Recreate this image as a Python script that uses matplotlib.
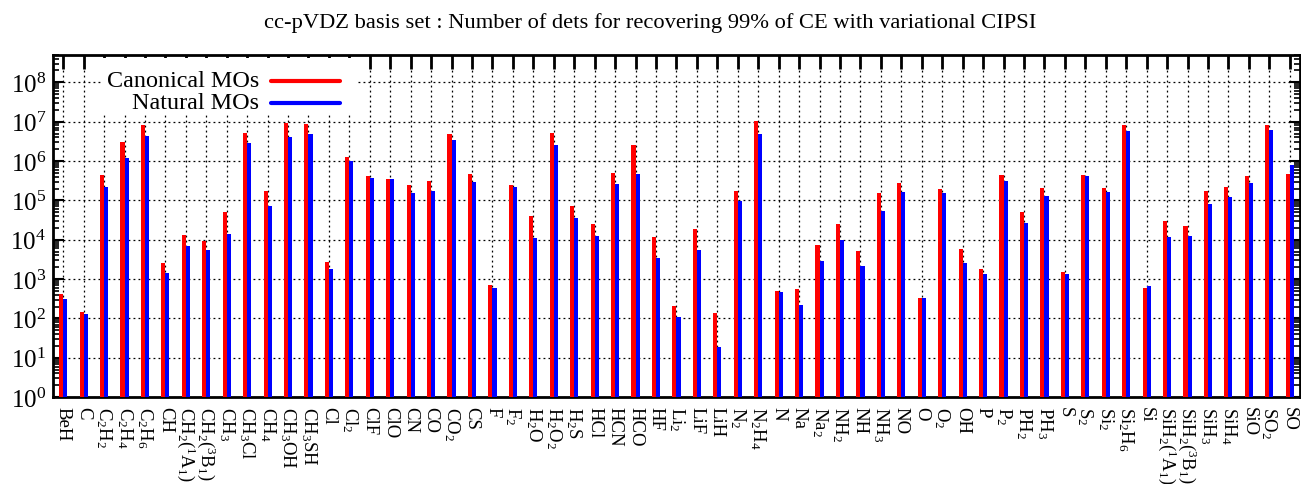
import matplotlib
matplotlib.use('Agg')
import numpy as np
import matplotlib.pyplot as plt
from matplotlib.ticker import LogLocator, LogFormatterMathtext, NullFormatter

plt.rcParams['font.family'] = 'Liberation Serif'
plt.rcParams['mathtext.fontset'] = 'custom'
plt.rcParams['mathtext.rm'] = 'Liberation Serif'
plt.rcParams['mathtext.it'] = 'Liberation Serif:italic'

# molecules (x axis)
molecules = ['BeH', 'C', 'C$_2$H$_2$', 'C$_2$H$_4$', 'C$_2$H$_6$', 'CH',
             'CH$_2$($^1$A$_1$)', 'CH$_2$($^3$B$_1$)', 'CH$_3$', 'CH$_3$Cl',
             'CH$_4$', 'CH$_3$OH', 'CH$_3$SH', 'Cl', 'Cl$_2$', 'ClF', 'ClO',
             'CN', 'CO', 'CO$_2$', 'CS', 'F', 'F$_2$', 'H$_2$O', 'H$_2$O$_2$',
             'H$_2$S', 'HCl', 'HCN', 'HCO', 'HF', 'Li$_2$', 'LiF', 'LiH',
             'N$_2$', 'N$_2$H$_4$', 'N', 'Na', 'Na$_2$', 'NH$_2$', 'NH',
             'NH$_3$', 'NO', 'O', 'O$_2$', 'OH', 'P', 'P$_2$', 'PH$_2$',
             'PH$_3$', 'S', 'S$_2$', 'Si$_2$', 'Si$_2$H$_6$', 'Si',
             'SiH$_2$($^1$A$_1$)', 'SiH$_2$($^3$B$_1$)', 'SiH$_3$', 'SiH$_4$',
             'SiO', 'SO$_2$', 'SO']

# number of determinants, canonical MOs
canonical = [420, 148, 4.5e5, 3.0e6, 8.0e6, 2.5e3,
             1.3e4, 9.3e3, 5.0e4, 5.1e6,
             1.7e5, 9.0e6, 8.7e6, 2.7e3, 1.26e6, 4.2e5, 3.6e5,
             2.4e5, 3.2e5, 4.8e6, 4.7e5, 720, 2.4e5, 4.1e4, 5.3e6,
             7.1e4, 2.5e4, 5.0e5, 2.5e6, 1.2e4, 210, 1.85e4, 135,
             1.78e5, 1.03e7, 490, 550, 7.4e3, 2.5e4, 5.2e3,
             1.5e5, 2.7e5, 337, 2.0e5, 5.7e3, 1.8e3, 4.5e5, 5.2e4,
             2.1e5, 1.55e3, 4.5e5, 2.1e5, 8.1e6, 600,
             3.0e4, 2.2e4, 1.78e5, 2.2e5,
             4.1e5, 8.0e6, 4.8e5]

# number of determinants, natural MOs
natural = [310, 130, 2.2e5, 1.2e6, 4.3e6, 1.4e3,
           6.8e3, 5.5e3, 1.4e4, 2.9e6,
           7.1e4, 4.0e6, 4.9e6, 1.8e3, 1.0e6, 3.7e5, 3.5e5,
           1.5e5, 1.7e5, 3.5e6, 3.0e5, 590, 2.2e5, 1.1e4, 2.6e6,
           3.6e4, 1.27e4, 2.6e5, 4.6e5, 3.4e3, 110, 5.6e3, 18,
           9.7e4, 4.9e6, 480, 222, 2.9e3, 1.0e4, 2.2e3,
           5.5e4, 1.66e5, 340, 1.5e5, 2.5e3, 1.35e3, 3.2e5, 2.7e4,
           1.3e5, 1.35e3, 4.2e5, 1.65e5, 5.9e6, 665,
           1.15e4, 1.25e4, 8.3e4, 1.23e5,
           2.7e5, 6.3e6, 8.1e5]

x = np.arange(len(molecules))

fig = plt.figure(figsize=(13.01, 4.85), dpi=100)
ax = fig.add_axes([0.0407, 0.179, 0.9585, 0.706])

ax.set_yscale('log')
ax.bar(x - 0.1, canonical, width=0.2, color='#ff0000', bottom=1, zorder=3)
ax.bar(x + 0.1, natural, width=0.2, color='#0000ff', bottom=1, zorder=3)

ax.set_xlim(-0.5, len(molecules) - 0.5)
ax.set_ylim(1, 10 ** 8.7)

ax.set_xticks(x)
ax.set_xticklabels(molecules, rotation=-90, fontsize=13.5, va='top', ha='center')
ax.yaxis.set_major_locator(LogLocator(base=10, numticks=20))
ax.yaxis.set_major_formatter(LogFormatterMathtext())
ax.yaxis.set_minor_locator(LogLocator(base=10, subs=np.arange(2, 10), numticks=20))
ax.yaxis.set_minor_formatter(NullFormatter())
ax.tick_params(axis='y', which='major', labelsize=18, direction='in',
               length=8, width=1.5, left=True, right=True, pad=5)
ax.tick_params(axis='y', which='minor', direction='in', length=4, width=1.2,
               left=True, right=True)
ax.tick_params(axis='x', direction='in', length=10, width=2, top=True,
               bottom=True, pad=6)

for s in ax.spines.values():
    s.set_linewidth(2)

ax.grid(True, which='major', color='black', ls=(0, (1.5, 2.5)), lw=0.9, zorder=1)
ax.set_axisbelow(True)

# legend gnuplot style: text right aligned, then the line
ax.add_patch(plt.Rectangle((0.04, 0.825), 0.205, 0.165, transform=ax.transAxes,
                           facecolor='white', edgecolor='none', zorder=2))
ax.text(0.1655, 0.924, 'Canonical MOs', transform=ax.transAxes, ha='right',
        va='center', fontsize=17.4, zorder=4)
ax.text(0.1655, 0.86, 'Natural MOs', transform=ax.transAxes, ha='right',
        va='center', fontsize=17.4, zorder=4)
ax.plot([0.175, 0.23], [0.924, 0.924], transform=ax.transAxes, color='#ff0000',
        lw=3, solid_capstyle='round', zorder=4)
ax.plot([0.175, 0.23], [0.86, 0.86], transform=ax.transAxes, color='#0000ff',
        lw=3, solid_capstyle='round', zorder=4)

fig.text(0.5, 0.953, 'cc-pVDZ basis set : Number of dets for recovering 99% '
         'of CE with variational CIPSI', ha='center', va='center', fontsize=16.2)

fig.savefig('out.png', dpi=100)
